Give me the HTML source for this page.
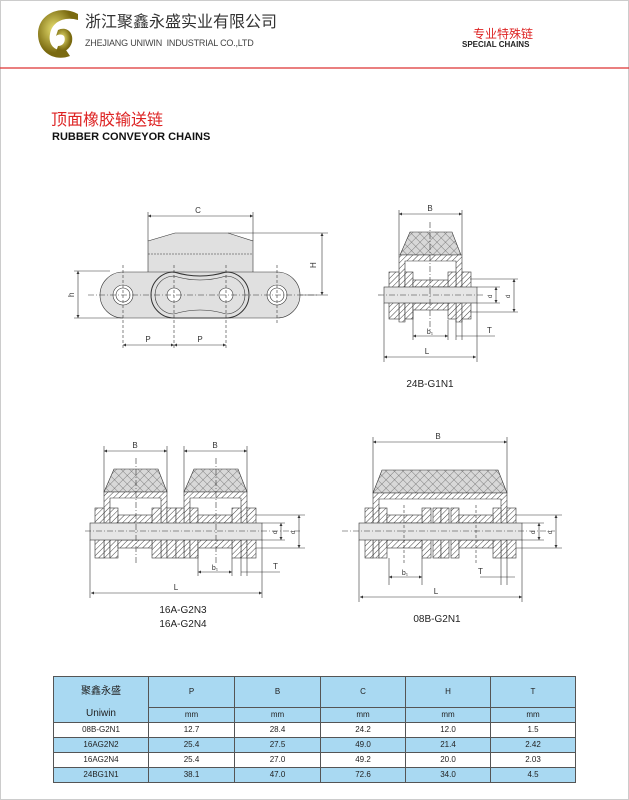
<!DOCTYPE html>
<html><head><meta charset="utf-8"><style>
body{margin:0;background:#fff;}
#p{position:relative;width:629px;height:800px;overflow:hidden;font-family:"Liberation Sans","Noto Sans CJK SC",sans-serif;}
.t{position:absolute;white-space:nowrap;line-height:1;}
table{position:absolute;left:53px;top:676px;border-collapse:collapse;font-family:"Liberation Sans","Noto Sans CJK SC",sans-serif;font-size:8px;color:#222;}
td{border:1px solid #555;text-align:center;padding:0;height:14px;line-height:1;}
.b{background:#a9d9f2;}
</style></head><body><div id="p">
<svg width="629" height="800" style="position:absolute;left:0;top:0" xmlns="http://www.w3.org/2000/svg">
<defs>
<pattern id="h" width="4" height="4" patternUnits="userSpaceOnUse" patternTransform="rotate(45)"><rect width="4" height="4" fill="#fff"/><line x1="0" y1="0" x2="0" y2="4" stroke="#444" stroke-width="1"/></pattern>
<pattern id="x" width="6" height="6" patternUnits="userSpaceOnUse" patternTransform="rotate(45)"><rect width="6" height="6" fill="#d8d8d8"/><line x1="0" y1="0" x2="0" y2="6" stroke="#555" stroke-width="0.7"/><line x1="0" y1="0" x2="6" y2="0" stroke="#555" stroke-width="0.7"/></pattern>
<marker id="a" viewBox="0 0 6 6" refX="6" refY="3" markerWidth="5" markerHeight="5" orient="auto-start-reverse"><path d="M0,0L6,3L0,6z" fill="#333"/></marker>
<radialGradient id="g" cx="40%" cy="40%"><stop offset="0" stop-color="#e8e070"/><stop offset="1" stop-color="#7a6a10"/></radialGradient>
</defs>
<rect x="0.5" y="0.5" width="628" height="799" fill="none" stroke="#ccc"/>
<path d="M78,14 C60,4 38,14 38,34 C38,52 54,62 70,56 L66,50 C54,52 48,44 50,34 C52,22 64,16 78,20 Z" fill="url(#g)"/>
<path d="M58,30 C66,26 74,32 72,42 C70,50 62,54 56,52 L58,46 C64,46 66,40 64,36 C62,34 58,34 56,36 Z" fill="url(#g)"/>
<line x1="0" y1="68" x2="629" y2="68" stroke="#d33" stroke-width="1.2"/>

<g stroke="#333" stroke-width="0.6" fill="none" font-family="Liberation Sans" font-size="8" >
<path d="M148,241 L175,233 L228,233 L253,241 L253,300 L148,300 Z" fill="#e0e0e0" stroke="#333"/>
<line x1="148" y1="254" x2="253" y2="254" stroke-dasharray="2,1"/>
<path d="M123,272 A23,23 0 1 0 123,318 L277,318 A23,23 0 1 0 277,272 Z" fill="#e0e0e0"/>
<path d="M174,272 A23,23 0 0 0 174,318 L226,318 A23,23 0 0 0 226,272 Q200,280 174,272Z" fill="#e0e0e0" stroke-width="1"/>
<path d="M174,276 A19,19 0 0 0 174,314 Q200,306 226,314 A19,19 0 0 0 226,276 Q200,284 174,276Z" />
<g fill="#fff"><circle cx="123" cy="295" r="10"/><circle cx="123" cy="295" r="7"/><circle cx="277" cy="295" r="10"/><circle cx="277" cy="295" r="7"/><circle cx="174" cy="295" r="7"/><circle cx="226" cy="295" r="7"/></g>
<line x1="88" y1="295" x2="318" y2="295" stroke-dasharray="6,2,1,2"/>
<g stroke-dasharray="3,2"><line x1="123" y1="265" x2="123" y2="350"/><line x1="174" y1="265" x2="174" y2="350"/><line x1="226" y1="265" x2="226" y2="350"/><line x1="277" y1="265" x2="277" y2="325"/></g>
<line x1="148" y1="212" x2="148" y2="241"/><line x1="253" y1="212" x2="253" y2="241"/>
<line x1="148" y1="216" x2="253" y2="216" marker-start="url(#a)" marker-end="url(#a)"/>
<line x1="228" y1="233" x2="328" y2="233"/><line x1="300" y1="295" x2="328" y2="295"/>
<line x1="322" y1="233" x2="322" y2="295" marker-start="url(#a)" marker-end="url(#a)"/>
<line x1="74" y1="271" x2="110" y2="271"/><line x1="74" y1="318" x2="123" y2="318"/>
<line x1="78" y1="271" x2="78" y2="318" marker-start="url(#a)" marker-end="url(#a)"/>
<line x1="123" y1="345" x2="174" y2="345" marker-start="url(#a)" marker-end="url(#a)"/>
<line x1="174" y1="345" x2="226" y2="345" marker-start="url(#a)" marker-end="url(#a)"/>
<g fill="#333" stroke="none"><text x="198" y="213" text-anchor="middle">C</text><text x="316" y="268" transform="rotate(-90 316 268)">H</text><text x="74" y="297" transform="rotate(-90 74 297)">h</text><text x="148" y="342" text-anchor="middle">P</text><text x="200" y="342" text-anchor="middle">P</text></g>

<polygon points="410,232 452,232 461,255 400,255" fill="url(#x)"/>
<path d="M399,322 L399,255 L462,255 L462,322 L456,322 L456,261 L405,261 L405,322 Z" fill="url(#h)"/>
<g fill="url(#h)"><rect x="389" y="272" width="10" height="47"/><rect x="405" y="272" width="8" height="47"/><rect x="448" y="272" width="8" height="47"/><rect x="462" y="272" width="9" height="47"/><rect x="413" y="280" width="35" height="7"/><rect x="413" y="303" width="35" height="7"/></g>
<rect x="384" y="287" width="93" height="16" fill="#e6e6e6"/>
<line x1="378" y1="295" x2="484" y2="295" stroke-dasharray="6,2,1,2"/>
<line x1="430" y1="222" x2="430" y2="330" stroke-dasharray="6,2,1,2"/>
<line x1="399" y1="210" x2="399" y2="255"/><line x1="462" y1="210" x2="462" y2="255"/>
<line x1="399" y1="214" x2="462" y2="214" marker-start="url(#a)" marker-end="url(#a)"/>
<line x1="384" y1="303" x2="384" y2="362"/><line x1="477" y1="303" x2="477" y2="362"/>
<line x1="384" y1="357" x2="476" y2="357" marker-start="url(#a)" marker-end="url(#a)"/>
<line x1="413" y1="310" x2="413" y2="340"/><line x1="448" y1="320" x2="448" y2="340"/><line x1="456" y1="320" x2="456" y2="340"/><line x1="462" y1="320" x2="462" y2="340"/>
<line x1="413" y1="336" x2="448" y2="336" marker-start="url(#a)" marker-end="url(#a)"/>
<line x1="456" y1="336" x2="495" y2="336"/>
<line x1="470" y1="279" x2="518" y2="279"/><line x1="470" y1="312" x2="518" y2="312"/><line x1="477" y1="287" x2="500" y2="287"/><line x1="477" y1="303" x2="500" y2="303"/>
<line x1="496" y1="287" x2="496" y2="303" marker-start="url(#a)" marker-end="url(#a)"/>
<line x1="514" y1="279" x2="514" y2="312" marker-start="url(#a)" marker-end="url(#a)"/>
<g fill="#333" stroke="none"><text x="430" y="211" text-anchor="middle">B</text><text x="427" y="354" text-anchor="middle">L</text><text x="430" y="334" text-anchor="middle" font-size="7">b₁</text><text x="487" y="333">T</text><text x="492" y="298" font-size="6" transform="rotate(-90 492 298)">d</text><text x="510" y="298" font-size="6" transform="rotate(-90 510 298)">d</text></g>

<g id="u16">
<polygon points="114,469 158,469 167,492 104,492" fill="url(#x)"/>
<path d="M104,558 L104,492 L167,492 L167,558 L161,558 L161,498 L110,498 L110,558 Z" fill="url(#h)"/>
</g>
<use href="#u16" x="80"/>
<g fill="url(#h)">
<rect x="95" y="508" width="9" height="50"/><rect x="110" y="508" width="8" height="50"/><rect x="152" y="508" width="9" height="50"/><rect x="167" y="508" width="9" height="50"/>
<rect x="176" y="508" width="8" height="50"/><rect x="190" y="508" width="8" height="50"/><rect x="232" y="508" width="9" height="50"/><rect x="247" y="508" width="9" height="50"/>
<rect x="118" y="515" width="34" height="8"/><rect x="118" y="540" width="34" height="8"/><rect x="198" y="515" width="34" height="8"/><rect x="198" y="540" width="34" height="8"/></g>
<rect x="90" y="523" width="172" height="17" fill="#e6e6e6"/>
<line x1="85" y1="531" x2="300" y2="531" stroke-dasharray="6,2,1,2"/>
<line x1="136" y1="458" x2="136" y2="565" stroke-dasharray="6,2,1,2"/><line x1="216" y1="458" x2="216" y2="565" stroke-dasharray="6,2,1,2"/>
<line x1="104" y1="446" x2="104" y2="492"/><line x1="167" y1="446" x2="167" y2="492"/><line x1="184" y1="446" x2="184" y2="492"/><line x1="247" y1="446" x2="247" y2="492"/>
<line x1="104" y1="451" x2="167" y2="451" marker-start="url(#a)" marker-end="url(#a)"/>
<line x1="184" y1="451" x2="247" y2="451" marker-start="url(#a)" marker-end="url(#a)"/>
<line x1="90" y1="540" x2="90" y2="598"/><line x1="262" y1="540" x2="262" y2="598"/>
<line x1="91" y1="593" x2="262" y2="593" marker-start="url(#a)" marker-end="url(#a)"/>
<line x1="198" y1="548" x2="198" y2="576"/><line x1="232" y1="558" x2="232" y2="576"/><line x1="241" y1="558" x2="241" y2="576"/><line x1="247" y1="558" x2="247" y2="576"/>
<line x1="198" y1="572" x2="232" y2="572" marker-start="url(#a)" marker-end="url(#a)"/><line x1="241" y1="572" x2="280" y2="572"/>
<line x1="256" y1="515" x2="305" y2="515"/><line x1="256" y1="548" x2="305" y2="548"/><line x1="262" y1="523" x2="285" y2="523"/><line x1="262" y1="540" x2="285" y2="540"/>
<line x1="281" y1="523" x2="281" y2="540" marker-start="url(#a)" marker-end="url(#a)"/>
<line x1="299" y1="515" x2="299" y2="548" marker-start="url(#a)" marker-end="url(#a)"/>
<g fill="#333" stroke="none"><text x="135" y="448" text-anchor="middle">B</text><text x="215" y="448" text-anchor="middle">B</text><text x="176" y="590" text-anchor="middle">L</text><text x="215" y="570" font-size="7" text-anchor="middle">b₁</text><text x="273" y="569">T</text><text x="277" y="534" font-size="6" transform="rotate(-90 277 534)">d</text><text x="295" y="534" font-size="6" transform="rotate(-90 295 534)">d</text></g>

<polygon points="382,470 498,470 507,493 373,493" fill="url(#x)"/>
<path d="M373,558 L373,493 L507,493 L507,558 L501,558 L501,499 L379,499 L379,558 Z" fill="url(#h)"/>
<g fill="url(#h)">
<rect x="365" y="508" width="8" height="50"/><rect x="379" y="508" width="8" height="50"/><rect x="422" y="508" width="9" height="50"/><rect x="433" y="508" width="8" height="50"/><rect x="441" y="508" width="8" height="50"/><rect x="451" y="508" width="8" height="50"/><rect x="493" y="508" width="8" height="50"/><rect x="507" y="508" width="9" height="50"/>
<rect x="387" y="515" width="35" height="8"/><rect x="387" y="540" width="35" height="8"/><rect x="459" y="515" width="34" height="8"/><rect x="459" y="540" width="34" height="8"/></g>
<rect x="359" y="523" width="163" height="17" fill="#e6e6e6"/>
<line x1="342" y1="531" x2="555" y2="531" stroke-dasharray="6,2,1,2"/>
<line x1="404" y1="505" x2="404" y2="565" stroke-dasharray="3,2"/><line x1="476" y1="505" x2="476" y2="565" stroke-dasharray="3,2"/>
<line x1="373" y1="437" x2="373" y2="493"/><line x1="507" y1="437" x2="507" y2="493"/>
<line x1="373" y1="442" x2="507" y2="442" marker-start="url(#a)" marker-end="url(#a)"/>
<line x1="359" y1="540" x2="359" y2="602"/><line x1="522" y1="540" x2="522" y2="602"/>
<line x1="360" y1="597" x2="522" y2="597" marker-start="url(#a)" marker-end="url(#a)"/>
<line x1="389" y1="558" x2="389" y2="585"/><line x1="422" y1="558" x2="422" y2="585"/>
<line x1="389" y1="577" x2="422" y2="577" marker-start="url(#a)" marker-end="url(#a)"/>
<line x1="501" y1="558" x2="501" y2="585"/><line x1="507" y1="558" x2="507" y2="585"/>
<line x1="480" y1="577" x2="515" y2="577"/>
<line x1="516" y1="515" x2="562" y2="515"/><line x1="516" y1="548" x2="562" y2="548"/><line x1="522" y1="523" x2="544" y2="523"/><line x1="522" y1="540" x2="544" y2="540"/>
<line x1="539" y1="523" x2="539" y2="540" marker-start="url(#a)" marker-end="url(#a)"/>
<line x1="556" y1="515" x2="556" y2="548" marker-start="url(#a)" marker-end="url(#a)"/>
<g fill="#333" stroke="none"><text x="438" y="439" text-anchor="middle">B</text><text x="436" y="594" text-anchor="middle">L</text><text x="405" y="575" font-size="7" text-anchor="middle">b₁</text><text x="478" y="574">T</text><text x="535" y="534" font-size="6" transform="rotate(-90 535 534)">d</text><text x="552" y="534" font-size="6" transform="rotate(-90 552 534)">d</text></g>
</g>
<g font-family="Liberation Sans" font-size="10" fill="#222" text-anchor="middle">
<text x="430" y="387">24B-G1N1</text><text x="183" y="613">16A-G2N3</text><text x="183" y="627">16A-G2N4</text><text x="437" y="622">08B-G2N1</text></g>
</svg>
<div class="t" style="left:85px;top:15px;font-size:16px;color:#333;">浙江聚鑫永盛实业有限公司</div>
<div class="t" style="left:85px;top:39px;font-size:9px;color:#444;letter-spacing:-0.2px;">ZHEJIANG UNIWIN&nbsp; INDUSTRIAL CO.,LTD</div>
<div class="t" style="left:473px;top:28px;font-size:12px;color:#d22;">专业特殊链</div>
<div class="t" style="left:462px;top:41px;font-size:8px;font-weight:bold;color:#222;">SPECIAL CHAINS</div>
<div class="t" style="left:51px;top:113px;font-size:16px;color:#d22;">顶面橡胶输送链</div>
<div class="t" style="left:52px;top:132px;font-size:11px;font-weight:bold;color:#111;">RUBBER CONVEYOR CHAINS</div>
<table>
<tr class="b"><td style="width:94px;height:30px;border-bottom:none;font-size:10px">聚鑫永盛</td><td style="width:85px">P</td><td style="width:85px">B</td><td style="width:84px">C</td><td style="width:84px">H</td><td style="width:84px">T</td></tr>
<tr class="b"><td style="height:13px;border-top:none;font-size:10px">Uniwin</td><td>mm</td><td>mm</td><td>mm</td><td>mm</td><td>mm</td></tr>
<tr><td>08B-G2N1</td><td>12.7</td><td>28.4</td><td>24.2</td><td>12.0</td><td>1.5</td></tr>
<tr class="b"><td>16AG2N2</td><td>25.4</td><td>27.5</td><td>49.0</td><td>21.4</td><td>2.42</td></tr>
<tr><td>16AG2N4</td><td>25.4</td><td>27.0</td><td>49.2</td><td>20.0</td><td>2.03</td></tr>
<tr class="b"><td>24BG1N1</td><td>38.1</td><td>47.0</td><td>72.6</td><td>34.0</td><td>4.5</td></tr>
</table>
</div></body></html>
